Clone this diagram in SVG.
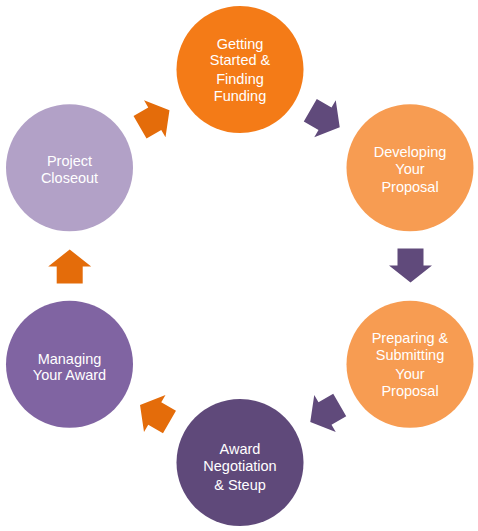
<svg xmlns="http://www.w3.org/2000/svg" width="478" height="531" viewBox="0 0 478 531">
  <defs>
    <style>
      .lbl { font-family: "Liberation Sans", Arial, sans-serif; font-size: 14.5px; fill: #FFFFFF; text-anchor: middle; }
      .c1 { fill: #F47B17; }
      .c2 { fill: #F79C52; }
      .c4 { fill: #5F497A; }
      .c5 { fill: #8064A2; }
      .c6 { fill: #B2A1C7; }
      .ao { fill: #E46C0A; }
      .ap { fill: #604A7B; }
    </style>
    <path id="arrow" d="M -17,-13 L 0,-13 L 0,-21.5 L 17,0 L 0,21.5 L 0,13 L -17,13 Z"/>
  </defs>
  <rect width="478" height="531" fill="#FFFFFF"/>

  <g id="connectors">
    <use href="#arrow" class="ap" transform="translate(325,118.75) rotate(30)"/>
    <use href="#arrow" class="ap" transform="translate(410.5,265.5) rotate(90)"/>
    <use href="#arrow" class="ap" transform="translate(325,413.5) rotate(150)"/>
    <use href="#arrow" class="ao" transform="translate(154.75,413.5) rotate(210)"/>
    <use href="#arrow" class="ao" transform="translate(69.7,266.5) rotate(270)"/>
    <use href="#arrow" class="ao" transform="translate(154.75,118.75) rotate(330)"/>
  </g>

  <g id="node-getting-started">
    <circle class="c1" cx="240" cy="69.5" r="63.5"/>
    <text class="lbl" x="240" y="48.5">Getting</text>
    <text class="lbl" x="240" y="65.2">Started &amp;</text>
    <text class="lbl" x="240" y="84">Finding</text>
    <text class="lbl" x="240" y="100.7">Funding</text>
  </g>

  <g id="node-developing">
    <circle class="c2" cx="410" cy="167.75" r="63.5"/>
    <text class="lbl" x="410" y="157">Developing</text>
    <text class="lbl" x="410" y="174">Your</text>
    <text class="lbl" x="410" y="192">Proposal</text>
  </g>

  <g id="node-preparing">
    <circle class="c2" cx="410" cy="364.25" r="63.5"/>
    <text class="lbl" x="410" y="342.7">Preparing &amp;</text>
    <text class="lbl" x="410" y="359.6">Submitting</text>
    <text class="lbl" x="410" y="379">Your</text>
    <text class="lbl" x="410" y="395.8">Proposal</text>
  </g>

  <g id="node-award-negotiation">
    <circle class="c4" cx="240" cy="462.5" r="63.5"/>
    <text class="lbl" x="240" y="453.5">Award</text>
    <text class="lbl" x="240" y="471">Negotiation</text>
    <text class="lbl" x="240" y="489.5">&amp; Steup</text>
  </g>

  <g id="node-managing">
    <circle class="c5" cx="69.5" cy="364.25" r="63.5"/>
    <text class="lbl" x="69.5" y="363.5">Managing</text>
    <text class="lbl" x="69.5" y="380.2">Your Award</text>
  </g>

  <g id="node-closeout">
    <circle class="c6" cx="69.5" cy="167.75" r="63.5"/>
    <text class="lbl" x="69.5" y="166.3">Project</text>
    <text class="lbl" x="69.5" y="183">Closeout</text>
  </g>
</svg>
